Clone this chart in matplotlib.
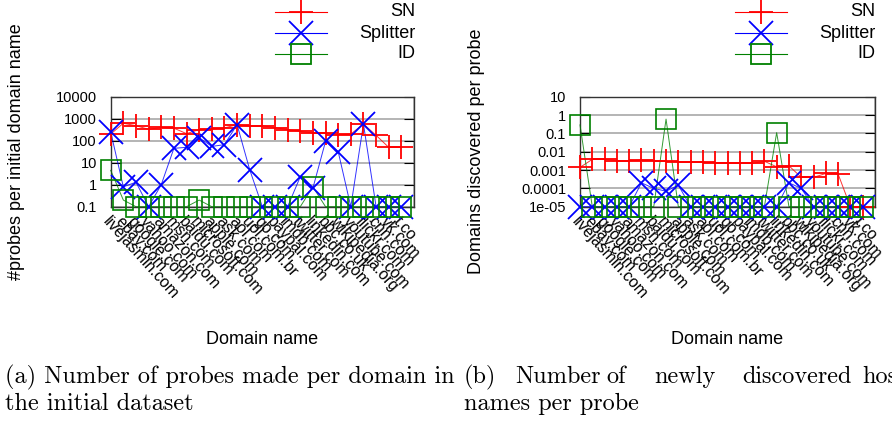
import numpy as np
import matplotlib
matplotlib.use("Agg")
import matplotlib.pyplot as plt
from matplotlib.transforms import ScaledTranslation
from matplotlib.ticker import FixedLocator, FixedFormatter, LogLocator, NullFormatter

plt.rcParams["font.family"] = ["Liberation Sans", "DejaVu Sans"]

domains = ["livejasmin.com", "ebay.com", "google.com", "yahoo.com", "amazon.com",
           "msn.com", "baidu.com", "microsoft.com", "apple.com", "ask.com",
           "aol.com", "uol.com.br", "go.com", "paypal.com", "imdb.com",
           "twitter.com", "linkedin.com", "bbc.co.uk", "wikipedia.org",
           "youtube.com", "flickr.com", "cnn.com", "vk.com", "t.co"]

# panel (a): probes per initial domain name (0 = none)
probes_sn = [200, 620, 480, 330, 400, 370, 210, 320, 340, 380, 540, 450,
             480, 390, 320, 265, 225, 225, 190, 200, 575, 175, 50, 50]
probes_splitter = [250, 0.8, 1.3, 0, 1.0, 45, 50, 138, 55, 66, 537, 4.8,
                   0, 0, 0, 2.3, 0.7, 93, 32, 0, 575, 0, 0, 0]
probes_id = [4.5, 0.2, 0, 0, 0, 0, 0, 0.2, 0, 0, 0, 0,
             0, 0, 0, 0, 0.8, 0, 0, 0, 0, 0, 0, 0]

# panel (b): newly discovered names per probe (0 = none)
found_sn = [0.0014, 0.0038, 0.0038, 0.0033, 0.0032, 0.0035, 0.0033, 0.003,
            0.0028, 0.0027, 0.0026, 0.0025, 0.0025, 0.0024, 0.0023, 0.003,
            0.0015, 0.0017, 0.0004, 0.0004, 0.00065, 0.0006, 0, 0]
found_splitter = [0, 0, 0, 0, 0, 0.0002, 0.0001, 0.00007, 0.00015, 0, 0, 0,
                  0, 0, 0, 0, 0, 0.0002, 0.0001, 0, 0, 0, 0, 0]
found_id = [0.29, 0, 0, 0, 0, 0, 0, 0.6, 0, 0, 0, 0,
            0, 0, 0, 0, 0.11, 0, 0, 0, 0, 0, 0, 0]


def draw_panel(ax, sn, splitter, ids, ymin, ymax, yticks, ylabels, ylabel):
    x = np.arange(len(domains))
    series = [
        (sn, "red", "+", 17, 1.3),
        (splitter, "blue", "x", 17, 1.3),
        (ids, "green", "s", 14, 1.2),
    ]
    for vals, col, mk, ms, mew in series:
        y = np.where(np.array(vals) > 0, vals, ymin)
        ax.plot(x, y, color=col, lw=0.7, alpha=0.8, clip_on=False, zorder=3)
        ax.plot(x, y, ls="none", marker=mk, ms=ms, mew=mew, mec=col,
                mfc="none", clip_on=False, zorder=4)
    ax.set_yscale("log")
    ax.set_ylim(ymin, ymax)
    ax.set_xlim(0, len(domains))
    ax.yaxis.set_major_locator(FixedLocator(yticks))
    ax.yaxis.set_major_formatter(FixedFormatter(ylabels))
    ax.yaxis.set_minor_locator(LogLocator(base=10, subs=np.arange(2, 10)))
    ax.yaxis.set_minor_formatter(NullFormatter())
    ax.set_xticks(x)
    ax.set_xticks(np.arange(len(domains) + 1), minor=True)
    ax.set_xticklabels(domains, rotation=-48, ha="left", va="top",
                       rotation_mode="anchor", fontsize=11.5)
    shift = ScaledTranslation(6 / 100, 0, ax.figure.dpi_scale_trans)
    for lab in ax.get_xticklabels():
        lab.set_transform(lab.get_transform() + shift)
    ax.grid(True, which="minor", axis="x", color="#bdbdbd", lw=1.3)
    ax.grid(True, which="major", axis="y", color="#a0a0a0", lw=1.1)
    ax.tick_params(axis="y", which="both", direction="in", right=True,
                   labelsize=10.5, pad=10)
    ax.tick_params(axis="y", which="major", length=7)
    ax.tick_params(axis="y", which="minor", length=4)
    ax.tick_params(axis="x", which="both", length=0, pad=5)
    ax.set_axisbelow(True)
    for s in ax.spines.values():
        s.set_color("#333333")
        s.set_linewidth(1.0)
    ax.set_ylabel(ylabel, fontsize=13)
    ax.set_xlabel("Domain name", fontsize=13)
    ax.xaxis.set_label_coords(0.5, -1.13)


def draw_key(fig, x0, x1, xt):
    rows = [("SN", "red", "+", 17), ("Splitter", "blue", "x", 17), ("ID", "green", "s", 14)]
    for i, (name, col, mk, ms) in enumerate(rows):
        yy = 1 - (12 + 21 * i) / 421
        fig.add_artist(plt.Line2D([x0 / 892, x1 / 892], [yy, yy], color=col, lw=0.8,
                                  transform=fig.transFigure))
        fig.add_artist(plt.Line2D([(x0 + x1) / 2 / 892], [yy], color=col, marker=mk,
                                  ms=ms, mew=1.3, mfc="none", transform=fig.transFigure))
        fig.text(xt / 892, yy, name, ha="right", va="center", fontsize=13)


fig = plt.figure(figsize=(8.92, 4.21), dpi=100)
ax1 = fig.add_axes([110.7 / 892, 1 - 206.7 / 421, 303.3 / 892, 110 / 421])
ax2 = fig.add_axes([580 / 892, 1 - 206.7 / 421, 295 / 892, 110 / 421])

draw_panel(ax1, probes_sn, probes_splitter, probes_id, 0.1, 10000,
           [0.1, 1, 10, 100, 1000, 10000],
           ["0.1", "1", "10", "100", "1000", "10000"],
           "#probes per initial domain name")
draw_panel(ax2, found_sn, found_splitter, found_id, 1e-05, 10,
           [1e-05, 1e-04, 1e-03, 1e-02, 0.1, 1, 10],
           ["1e-05", "0.0001", "0.001", "0.01", "0.1", "1", "10"],
           "Domains discovered per probe")
ax1.yaxis.set_label_coords(-0.283, 0.5)
ax2.yaxis.set_label_coords(-0.322, 0.5)

draw_key(fig, 275, 327, 415)
draw_key(fig, 735, 787, 875)

cap = dict(fontfamily="cmr10", fontsize=17.5, va="center")
fig.text(5 / 892, 1 - 377 / 421, "(a) Number of probes made per domain in", **cap)
fig.text(5 / 892, 1 - 404 / 421, "the initial dataset", **cap)
for word, px in [("(b)", 464), ("Number", 515), ("of", 606), ("newly", 654),
                 ("discovered", 742), ("hos", 862)]:
    fig.text(px / 892, 1 - 377 / 421, word, **cap)
fig.text(464 / 892, 1 - 404 / 421, "names per probe", **cap)

fig.savefig("out.png", dpi=100)
